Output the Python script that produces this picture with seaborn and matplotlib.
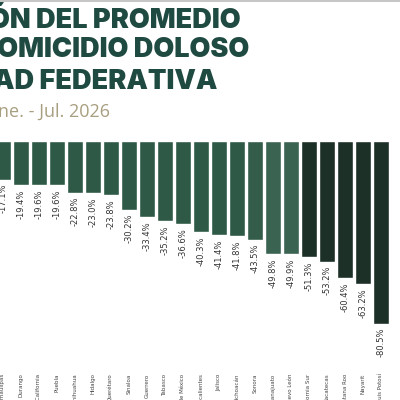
import matplotlib
matplotlib.use("Agg")
import matplotlib.pyplot as plt
import seaborn as sns
import pandas as pd

# estados (los visibles en el recorte) y variacion en %
estados = ["Tamaulipas", "Durango", "Baja California", "Puebla", "Chihuahua",
           "Hidalgo", "Querétaro", "Sinaloa", "Guerrero", "Tabasco",
           "Estado de México", "Aguascalientes", "Jalisco", "Michoacán",
           "Sonora", "Guanajuato", "Nuevo León", "Baja California Sur",
           "Zacatecas", "Quintana Roo", "Nayarit", "San Luis Potosí"]
variacion = [-17.1, -19.4, -19.6, -19.6, -22.8, -23.0, -23.8, -30.2, -33.4,
             -35.2, -36.6, -40.3, -41.4, -41.8, -43.5, -49.8, -49.9, -51.3,
             -53.2, -60.4, -63.2, -80.5]
colores = ["#2e5946"] * 14 + ["#345c4a", "#3a6351", "#3a6351"] + ["#1c3027"] * 5

df = pd.DataFrame({"estado": estados, "var": variacion})

sns.set_style("white")
fig = plt.figure(figsize=(4, 4), dpi=100)
fig.patch.set_facecolor("white")

# eje recortado: 0 en y=141px, 2.27 px por punto
ax = fig.add_axes([0, 28 / 400, 1, 372 / 400])
sns.barplot(data=df, x="estado", y="var", hue="estado", palette=colores,
            legend=False, width=0.89, saturation=1, ax=ax)
ax.set_xlim(-3 / 18, (400 - 3) / 18)
ax.set_ylim(-(372 - 141) / 2.27, 141 / 2.27)
for c in ax.containers:
    ax.bar_label(c, fmt="%.1f%%", rotation=90, padding=3, fontsize=6,
                 color="#333333")
ax.set_xlabel("")
ax.set_ylabel("")
ax.set_yticks([])
ax.tick_params(axis="x", length=0, pad=1, labelsize=4, labelcolor="#444444")
plt.setp(ax.get_xticklabels(), rotation=90, va="top", ha="center")
sns.despine(ax=ax, left=True, bottom=True)

# titulo (recortado a la izquierda como en la imagen)
verde = "#1f4a41"
tit = dict(fontsize=19.5, fontweight=900, family="Inter", color=verde,
           va="baseline", ha="left")
fig.text(-0.028, 0.930, "ÓN DEL PROMEDIO", **tit)
fig.text(-0.058, 0.857, "HOMICIDIO DOLOSO", **tit)
fig.text(-0.018, 0.778, "AD FEDERATIVA", **tit)
fig.text(-0.004, 0.707, "ne. - Jul. 2026", fontsize=13, family="Open Sans",
         color="#a89f80", va="baseline", ha="left")
fig.add_artist(plt.Line2D([0, 1], [0.997, 0.997], color="#bbbbbb", lw=1.2))

plt.savefig("out.png", dpi=100, facecolor="white")
